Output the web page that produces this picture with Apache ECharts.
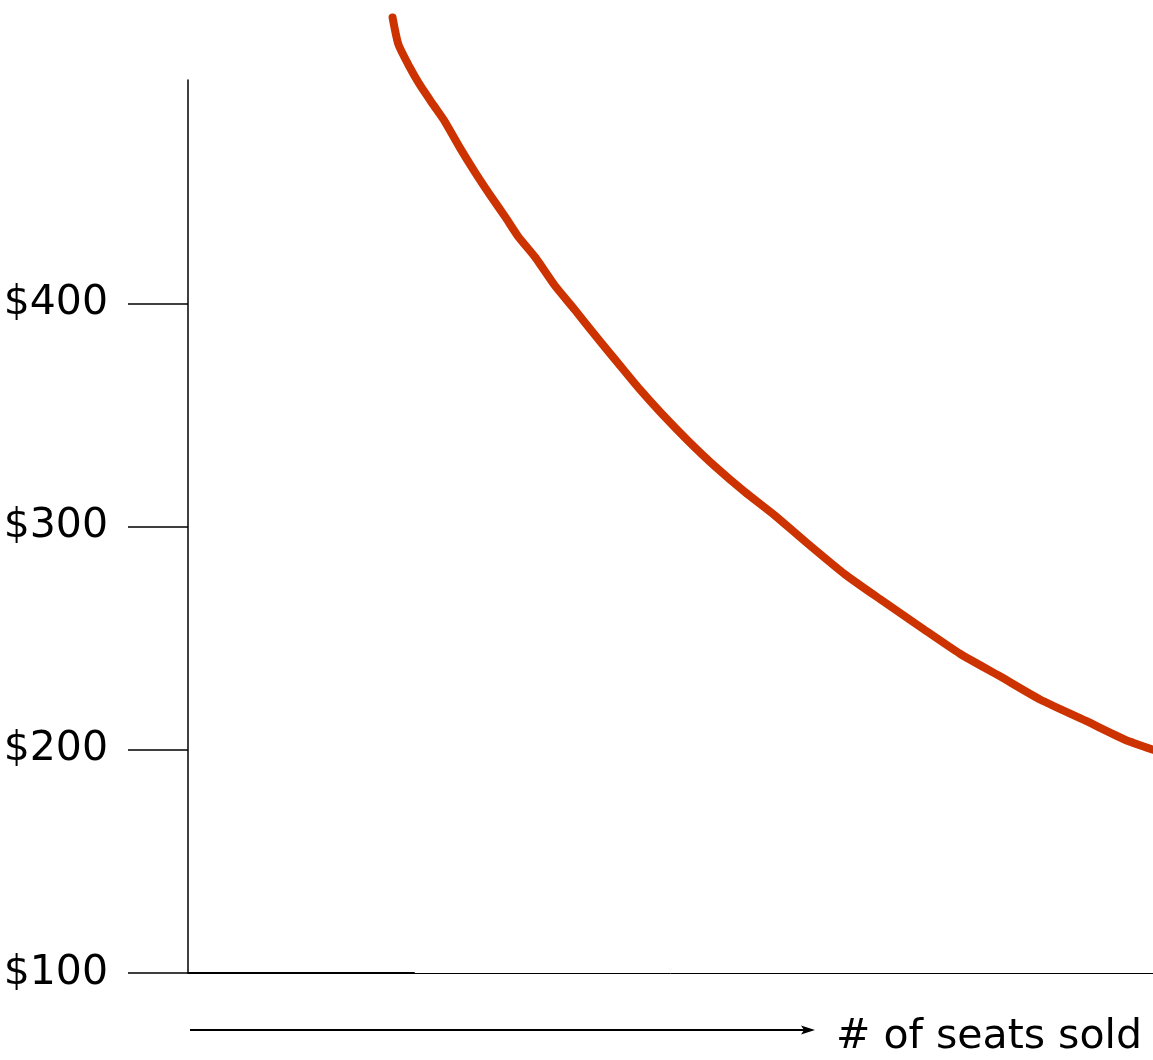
<!DOCTYPE html>
<html>
<head>
<meta charset="utf-8">
<script src="https://cdn.jsdelivr.net/npm/echarts@6/dist/echarts.min.js"></script>
<style>
  html, body { margin: 0; padding: 0; background: #fff; }
  #chart { width: 1153px; height: 1060px; }
</style>
</head>
<body>
<div id="chart"></div>
<script>
// Demand curve: ticket price against number of seats sold
const seatsSold = [21.2, 21.8, 23.0, 24.0, 25.4, 26.6, 28.2, 29.7, 31.3, 32.9, 34.2, 36.0,
  38.0, 40.1, 42.4, 44.5, 46.8, 49.1, 51.8, 54.6, 57.7, 60.8, 63.9, 68.1, 71.7, 75.9,
  80.0, 84.1, 88.3, 93.0, 97.1, 100];
const price = [528, 516, 505.5, 498, 489, 481.5, 469.5, 459, 448.5, 438.5, 430, 420.5,
  408, 397, 384.5, 373.5, 361.5, 350.5, 338.5, 327, 315.5, 305, 293.5, 278.5, 267.5, 255,
  243, 233, 222.5, 213, 204.5, 200];
const priceTicks = [100, 200, 300, 400];

const FONT = '"DejaVu Sans", sans-serif';

const chart = echarts.init(document.getElementById('chart'), null, { renderer: 'canvas' });
chart.setOption({
  animation: false,
  backgroundColor: '#ffffff',
  grid: { left: 188, right: 0, top: 80, bottom: 87, containLabel: false, outerBoundsMode: 'none' },
  xAxis: {
    type: 'value', min: 0, max: 100,
    axisLine: { show: true, onZero: false, lineStyle: { color: '#000', width: 1 } },
    axisTick: { show: false },
    axisLabel: { show: false },
    splitLine: { show: false }
  },
  yAxis: {
    type: 'value', min: 100, max: 500, interval: 100,
    axisLine: { show: true, lineStyle: { color: '#000', width: 1.5 } },
    axisTick: { show: true, length: 60, customValues: priceTicks, lineStyle: { color: '#000', width: 1.5 } },
    axisLabel: {
      show: true, customValues: priceTicks, margin: 80,
      formatter: v => '$' + v,
      color: '#000', fontFamily: FONT, fontSize: 41
    },
    splitLine: { show: false }
  },
  series: [{
    type: 'line',
    data: seatsSold.map((s, i) => [s, price[i]]),
    symbol: 'none',
    smooth: 0.2,
    clip: false,
    lineStyle: { color: '#CC3300', width: 8, cap: 'round', join: 'round' },
    markLine: {
      silent: true, symbol: 'none', label: { show: false },
      lineStyle: { color: '#000', width: 2, type: 'solid' },
      data: [[{ coord: [0, 100] }, { coord: [23.5, 100] }]]
    }
  }],
  graphic: [
    {
      type: 'line', silent: true,
      shape: { x1: 190, y1: 1030, x2: 812, y2: 1030 },
      style: { stroke: '#000', lineWidth: 2 }
    },
    {
      type: 'polygon', silent: true,
      shape: { points: [[815, 1030], [801, 1025.5], [804, 1030], [801, 1034.5]] },
      style: { fill: '#000' }
    },
    {
      type: 'text', silent: true,
      x: 836, y: 1037,
      style: {
        text: '# of seats sold', fill: '#000',
        font: '41px ' + FONT, textVerticalAlign: 'middle', textAlign: 'left'
      }
    }
  ]
});
</script>
</body>
</html>
